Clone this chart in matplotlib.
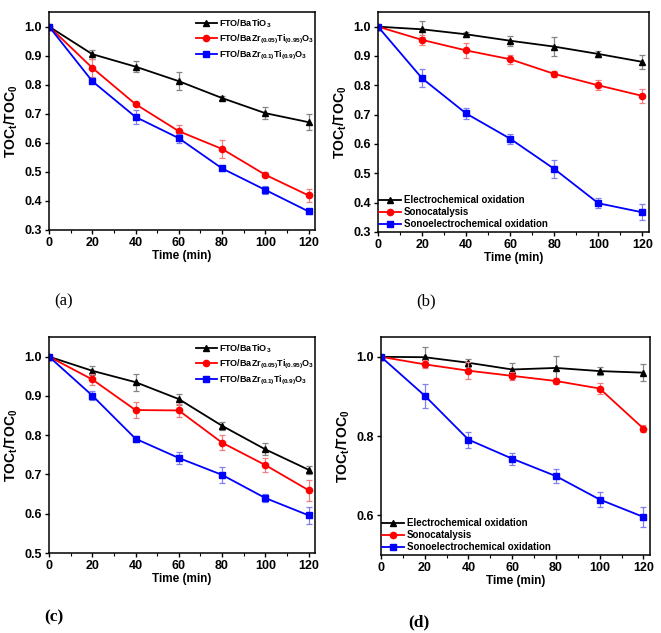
"""
TOC除去率の4パネル図
"""

import matplotlib
import matplotlib.pyplot as plt
from matplotlib.ticker import MultipleLocator

matplotlib.use("Agg")

plt.rcParams["font.family"] = ["Liberation Sans", "DejaVu Sans"]
plt.rcParams["font.weight"] = "bold"
plt.rcParams["mathtext.fontset"] = "custom"
plt.rcParams["mathtext.rm"] = "Liberation Sans:bold"
plt.rcParams["mathtext.it"] = "Liberation Sans:bold"
plt.rcParams["mathtext.default"] = "rm"

# データ
time = [0, 20, 40, 60, 80, 100, 120]

# (a)
a_bto = [1.0, 0.905, 0.862, 0.812, 0.754, 0.702, 0.671]
a_bto_err = [0, 0.015, 0.02, 0.03, 0.008, 0.02, 0.027]
a_z05 = [1.0, 0.858, 0.733, 0.640, 0.579, 0.490, 0.419]
a_z05_err = [0, 0.03, 0.008, 0.02, 0.032, 0.008, 0.022]
a_z10 = [1.0, 0.812, 0.689, 0.616, 0.512, 0.438, 0.364]
a_z10_err = [0, 0.005, 0.025, 0.015, 0.008, 0.015, 0.008]

# (b)
b_ec = [1.0, 0.991, 0.974, 0.952, 0.932, 0.907, 0.880]
b_ec_err = [0, 0.027, 0.008, 0.017, 0.033, 0.01, 0.025]
b_sc = [1.0, 0.955, 0.919, 0.889, 0.839, 0.800, 0.764]
b_sc_err = [0, 0.017, 0.025, 0.015, 0.01, 0.017, 0.025]
b_sec = [1.0, 0.824, 0.704, 0.618, 0.515, 0.398, 0.367]
b_sec_err = [0, 0.03, 0.02, 0.017, 0.03, 0.017, 0.027]

# (c)
c_bto = [1.0, 0.964, 0.935, 0.892, 0.824, 0.764, 0.712]
c_bto_err = [0, 0.012, 0.022, 0.014, 0.01, 0.015, 0.01]
c_z05 = [1.0, 0.942, 0.864, 0.863, 0.781, 0.724, 0.660]
c_z05_err = [0, 0.015, 0.02, 0.017, 0.02, 0.018, 0.027]
c_z10 = [1.0, 0.901, 0.791, 0.742, 0.699, 0.640, 0.596]
c_z10_err = [0, 0.012, 0.008, 0.015, 0.02, 0.01, 0.022]

# (d)
d_ec = [1.0, 0.999, 0.985, 0.968, 0.972, 0.964, 0.960]
d_ec_err = [0, 0.025, 0.01, 0.017, 0.03, 0.01, 0.022]
d_sc = [1.0, 0.981, 0.965, 0.952, 0.939, 0.920, 0.819]
d_sc_err = [0, 0.01, 0.022, 0.01, 0.008, 0.014, 0.008]
d_sec = [1.0, 0.902, 0.791, 0.743, 0.699, 0.640, 0.596]
d_sec_err = [0, 0.03, 0.02, 0.015, 0.017, 0.02, 0.026]

labels_cat = [
    "FTO/BaTiO$_3$",
    "FTO/BaZr$_{(0.05)}$Ti$_{(0.95)}$O$_3$",
    "FTO/BaZr$_{(0.1)}$Ti$_{(0.9)}$O$_3$",
]
labels_proc = [
    "Electrochemical oxidation",
    "Sonocatalysis",
    "Sonoelectrochemical oxidation",
]

colors = ["black", "red", "blue"]
err_colors = ["#858585", "#f08080", "#8080f0"]
markers = ["^", "o", "s"]


def draw_panel(ax, series, errs, labels, ylim, yticks, leg_kw):
    for i in range(3):
        ax.errorbar(
            time, series[i], yerr=errs[i], fmt="none",
            ecolor=err_colors[i], elinewidth=0.9, capsize=2.5, capthick=0.9,
        )
        ax.plot(
            time, series[i], color=colors[i], marker=markers[i],
            markersize=4.5, linewidth=1.3, label=labels[i],
        )
    ax.set_xlim(0, 123)
    ax.set_ylim(*ylim)
    ax.set_xticks([0, 20, 40, 60, 80, 100, 120])
    ax.xaxis.set_minor_locator(MultipleLocator(10))
    ax.set_yticks(yticks)
    ax.tick_params(direction="out", labelsize=9, length=3, width=1, pad=2)
    ax.tick_params(which="minor", direction="out", length=2, width=0.8)
    for s in ax.spines.values():
        s.set_linewidth(1.1)
    ax.set_xlabel("Time (min)", fontsize=8.5, fontweight="bold", labelpad=1)
    ax.set_ylabel("TOC$_t$/TOC$_0$", fontsize=10, fontweight="bold", labelpad=3)
    ax.legend(
        frameon=False, handlelength=2.3, handletextpad=0.3, **leg_kw,
    )


fig = plt.figure(figsize=(6.61, 6.33), dpi=100)

ax_a = fig.add_axes([49 / 661, 1 - 230 / 633, 266 / 661, 218 / 633])
ax_b = fig.add_axes([378 / 661, 1 - 232 / 633, 271 / 661, 220 / 633])
ax_c = fig.add_axes([49 / 661, 1 - 553 / 633, 266 / 661, 216 / 633])
ax_d = fig.add_axes([381 / 661, 1 - 555 / 633, 269 / 661, 218 / 633])

leg_cat = dict(loc="upper right", bbox_to_anchor=(1.018, 1.0), fontsize=6.5,
               labelspacing=0.3, borderaxespad=0.2)
leg_proc = dict(loc="lower left", bbox_to_anchor=(-0.015, -0.01), fontsize=7,
                labelspacing=0.2, borderaxespad=0.1)

ticks_03 = [0.3, 0.4, 0.5, 0.6, 0.7, 0.8, 0.9, 1.0]
draw_panel(ax_a, [a_bto, a_z05, a_z10], [a_bto_err, a_z05_err, a_z10_err],
           labels_cat, (0.3, 1.05), ticks_03, leg_cat)
draw_panel(ax_b, [b_ec, b_sc, b_sec], [b_ec_err, b_sc_err, b_sec_err],
           labels_proc, (0.3, 1.05), ticks_03, leg_proc)
draw_panel(ax_c, [c_bto, c_z05, c_z10], [c_bto_err, c_z05_err, c_z10_err],
           labels_cat, (0.5, 1.05), [0.5, 0.6, 0.7, 0.8, 0.9, 1.0], leg_cat)
draw_panel(ax_d, [d_ec, d_sc, d_sec], [d_ec_err, d_sc_err, d_sec_err],
           labels_proc, (0.5, 1.05), [0.6, 0.8, 1.0], leg_proc)

# パネルラベル
serif = ["Liberation Serif", "DejaVu Serif"]
fig.text(64 / 661, 1 - 301 / 633, "(a)", family=serif, fontsize=12,
         fontweight="normal", ha="center", va="center")
fig.text(426 / 661, 1 - 301 / 633, "(b)", family=serif, fontsize=12,
         fontweight="normal", ha="center", va="center")
fig.text(54 / 661, 1 - 617 / 633, "(c)", family=serif, fontsize=12.5,
         fontweight="bold", ha="center", va="center")
fig.text(419 / 661, 1 - 622 / 633, "(d)", family=serif, fontsize=12.5,
         fontweight="bold", ha="center", va="center")

plt.savefig("out.png", dpi=100)
plt.close()
